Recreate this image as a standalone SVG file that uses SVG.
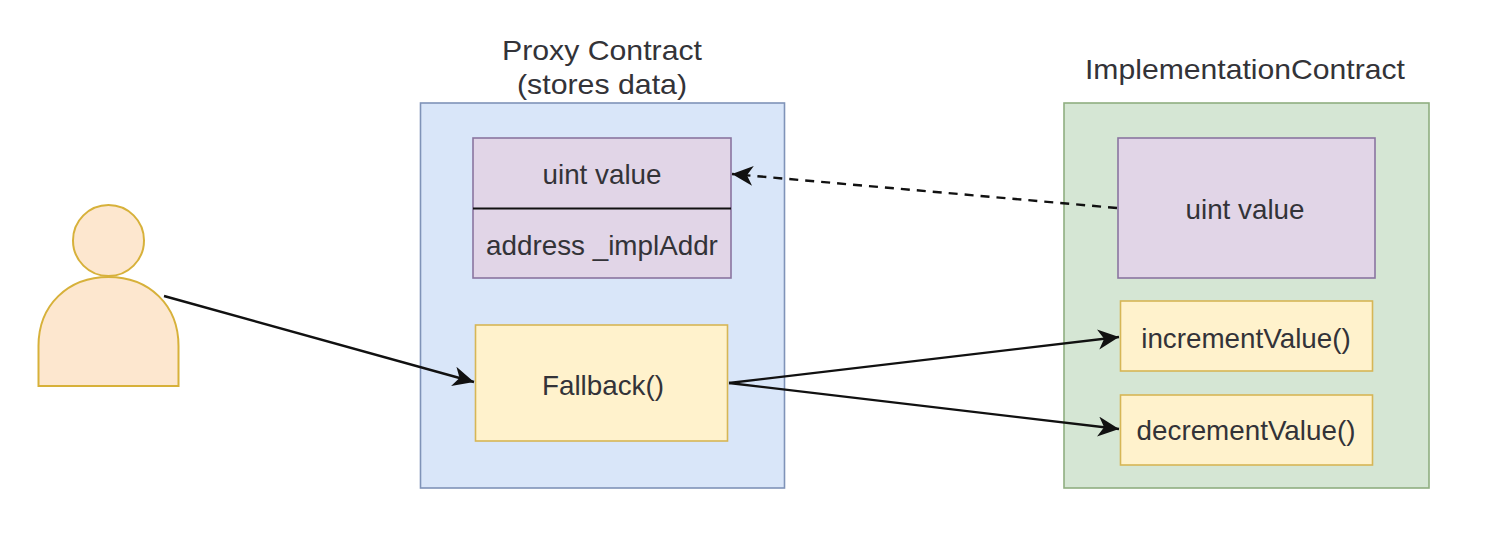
<svg xmlns="http://www.w3.org/2000/svg" width="1492" height="534" viewBox="0 0 1492 534">
<style>
text{font-family:"Liberation Sans",Arial,sans-serif;font-size:27.800px;fill:#333338;text-anchor:middle}
.blue{fill:#d9e6f9;stroke:#7f93b8;stroke-width:1.6}
.green{fill:#d5e6d4;stroke:#8fae80;stroke-width:1.6}
.purple{fill:#e1d5e7;stroke:#8a75a0;stroke-width:1.6}
.yellow{fill:#fff2cc;stroke:#d6b656;stroke-width:1.6}
.actor{fill:#fde7cf;stroke:#d7b13a;stroke-width:2}
.c{fill:none;stroke:#111;stroke-width:2.4}
.d{stroke-dasharray:9 7}
</style>
<defs>
<marker id="arrow" markerUnits="userSpaceOnUse" markerWidth="24" markerHeight="22" refX="21" refY="10" orient="auto">
<path d="M0 0L21 10L0 20L6 10Z" fill="#111"/>
</marker>
</defs>
<rect width="1492" height="534" fill="#fff"/>
<g id="actor">
<circle class="actor" cx="108.500" cy="240.500" r="35.500"/>
<path class="actor" d="M38.500 386V346C38.500 305 68 277 108.500 277C149 277 178.500 305 178.500 346V386Z"/>
</g>
<g id="proxy-contract">
<rect class="blue" x="420.500" y="103" width="364" height="385"/>
<text x="602" y="60" textLength="200" lengthAdjust="spacingAndGlyphs">Proxy Contract</text>
<text x="602" y="94" textLength="170" lengthAdjust="spacingAndGlyphs">(stores data)</text>
</g>
<g id="proxy-storage">
<rect class="purple" x="473" y="138" width="258" height="140"/>
<line x1="473" y1="208.500" x2="731" y2="208.500" stroke="#111" stroke-width="2"/>
<text x="602" y="183.500">uint value</text>
<text x="602" y="254.500">address _implAddr</text>
</g>
<g id="fallback">
<rect class="yellow" x="475.500" y="325" width="252" height="116"/>
<text x="603" y="394.500">Fallback()</text>
</g>
<g id="implementation-contract">
<rect class="green" x="1064" y="103" width="365" height="385"/>
<text x="1245" y="79" textLength="320" lengthAdjust="spacingAndGlyphs">ImplementationContract</text>
</g>
<g id="impl-value">
<rect class="purple" x="1118" y="138" width="257" height="140"/>
<text x="1245" y="218.500">uint value</text>
</g>
<g id="increment">
<rect class="yellow" x="1120.500" y="301" width="252" height="70"/>
<text x="1246" y="347.500">incrementValue()</text>
</g>
<g id="decrement">
<rect class="yellow" x="1120.500" y="395" width="252" height="70"/>
<text x="1246" y="440">decrementValue()</text>
</g>
<g id="connectors">
<path class="c" d="M164 296L474 382" marker-end="url(#arrow)"/>
<path class="c d" d="M1117 208L732 174" marker-end="url(#arrow)"/>
<path class="c" d="M729 383L1119 337" marker-end="url(#arrow)"/>
<path class="c" d="M729 383L1119 429" marker-end="url(#arrow)"/>
</g>
</svg>
